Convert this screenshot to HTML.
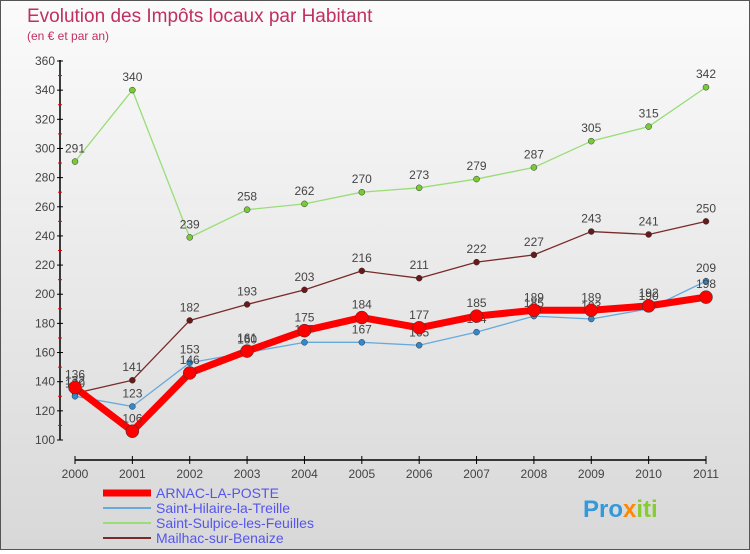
<!DOCTYPE html>
<html><head><meta charset="utf-8"><style>
body{margin:0;}
#c{width:748px;height:548px;border:1px solid #555;background:linear-gradient(#fbfbfb,#d8d8d8);position:relative;font-family:"Liberation Sans",sans-serif;}
</style></head><body>
<div id="c">
<svg id="s" width="748" height="548" xmlns="http://www.w3.org/2000/svg"></svg>
</div>
<script>
const years=["2000","2001","2002","2003","2004","2005","2006","2007","2008","2009","2010","2011"];
const arnac=[136,106,146,161,175,184,177,185,189,189,192,198];
const hilaire=[130,123,153,160,167,167,165,174,185,183,190,209];
const sulpice=[291,340,239,258,262,270,273,279,287,305,315,342];
const mailhac=[132,141,182,193,203,216,211,222,227,243,241,250];
const yTicks=[100,120,140,160,180,200,220,240,260,280,300,320,340,360];
const NS="http://www.w3.org/2000/svg";
const s=document.getElementById('s');
const X=i=>74+i*(631/11);
const Y=v=>439-(v-100)*(379/260);
function el(t,a,p){const e=document.createElementNS(NS,t);for(const k in a)e.setAttribute(k,a[k]);(p||s).appendChild(e);return e;}
function txt(x,y,str,a,p){const e=el('text',Object.assign({x:x,y:y},a),p);e.textContent=str;return e;}
let t=txt(26,21,"Evolution des Impôts locaux par Habitant",{fill:"#c0305e","font-size":19});

t=txt(26,39,"(en € et par an)",{fill:"#c0305e","font-size":12});

let ax=el('line',{x1:59,y1:59,x2:59,y2:439,stroke:"#000","stroke-width":1.5});

yTicks.forEach(v=>{el('line',{x1:56,x2:62,y1:Y(v),y2:Y(v),stroke:"#000"});
 if(v<360)el('line',{x1:57,x2:61,y1:Y(v+10),y2:Y(v+10),stroke:"#e00"});
 let l=txt(54,Y(v)+4,v,{"text-anchor":"end","font-size":12,fill:"#444"});
 });
ax=el('line',{x1:74,y1:459,x2:X(11),y2:459,stroke:"#000","stroke-width":1.5});

years.forEach((y,i)=>{el('line',{x1:X(i),x2:X(i),y1:455,y2:463,stroke:"#000"});
 let l=txt(X(i),477,y,{"text-anchor":"middle","font-size":12,fill:"#444"});
 });
function series(d,col,w,r,name,dot){
 const g=el('g',{});
 el('polyline',{points:d.map((v,i)=>X(i)+","+Y(v)).join(" "),fill:"none",stroke:col,"stroke-width":w,"stroke-linejoin":"round"},g);
 d.forEach((v,i)=>{const c=el('circle',{cx:X(i),cy:Y(v),r:r,fill:dot,stroke:"#333","stroke-width":0.5},g);
 
 txt(X(i),Y(v)-9,v,{"text-anchor":"middle","font-size":12,fill:"#444"},g);});
}
series(sulpice,"#99dd77",1.3,3,"saint-sulpice-series","#77cc33");
series(mailhac,"#7a2a2a",1.3,3,"mailhac-series","#661a1a");
series(hilaire,"#66aadd",1.3,3,"saint-hilaire-series","#3388cc");
series(arnac,"#ff0000",7,6.5,"arnac-series","#ff0000");
const L=[["ARNAC-LA-POSTE","#ff0000",7],["Saint-Hilaire-la-Treille","#66aadd",2],["Saint-Sulpice-les-Feuilles","#99dd77",2],["Mailhac-sur-Benaize","#7a2a2a",2]];
L.forEach((e,i)=>{const g=el('g',{});
 el('line',{x1:102,x2:150,y1:492+i*15,y2:492+i*15,stroke:e[1],"stroke-width":e[2]},g);
 txt(155,497+i*15,e[0],{"font-size":14,fill:"#5555ee"},g);});
t=el('text',{x:582,y:516,"font-size":24,"font-weight":"bold"});

[["Pro","#3399dd"],["x","#ff8800"],["iti","#88cc33"]].forEach(p=>{const ts=el('tspan',{fill:p[1]},t);ts.textContent=p[0];});
</script>
</body></html>
